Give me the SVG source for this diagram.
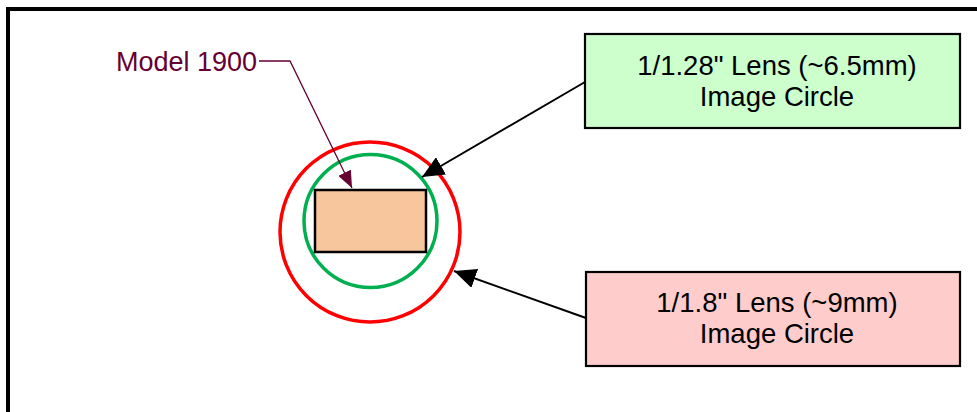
<svg xmlns="http://www.w3.org/2000/svg" width="977" height="412" viewBox="0 0 977 412">
<style>
text{font-family:"Liberation Sans",Arial,sans-serif;font-size:27.5px;fill:#000}
.model{font-size:27px;fill:#660033}
.box{stroke:#000;stroke-width:2.2}
.blk{stroke:#000;stroke-width:2;fill:none}
</style>
<defs>
<marker id="ah" markerWidth="24" markerHeight="20" refX="22" refY="10" markerUnits="userSpaceOnUse" orient="auto">
<path d="M0,0 L22,10 L0,20 z" fill="#000"/>
</marker>
<marker id="ahm" markerWidth="18" markerHeight="14" refX="17" refY="7" markerUnits="userSpaceOnUse" orient="auto">
<path d="M0,0 L17,7 L0,14 z" fill="#660033"/>
</marker>
</defs>
<rect x="8" y="9" width="975" height="410" fill="#fff" stroke="#000" stroke-width="4"/>
<g id="red-circle"><circle cx="370" cy="232" r="90" fill="none" stroke="#FF0000" stroke-width="3.5"/></g>
<g id="green-circle"><circle cx="370.5" cy="221" r="66.5" fill="none" stroke="#00B050" stroke-width="3.5"/></g>
<g id="sensor"><rect x="315" y="190" width="111" height="62" fill="#F8C69C" stroke="#000" stroke-width="2.5"/></g>
<g id="model-label"><text class="model" x="116" y="71">Model 1900</text></g>
<g id="green-box">
<rect class="box" x="585" y="34" width="375" height="94" fill="#CCFFCC"/>
<text x="777" y="75" text-anchor="middle">1/1.28" Lens (~6.5mm)</text>
<text x="777" y="106" text-anchor="middle">Image Circle</text>
</g>
<g id="pink-box">
<rect class="box" x="586" y="272" width="374" height="94" fill="#FFCCCC"/>
<text x="777" y="312" text-anchor="middle">1/1.8" Lens (~9mm)</text>
<text x="777" y="343" text-anchor="middle">Image Circle</text>
</g>
<g id="connectors">
<polyline points="259,61 290,61 352,188" fill="none" stroke="#660033" stroke-width="1.3" marker-end="url(#ahm)"/>
<line class="blk" x1="585" y1="82" x2="422" y2="177" marker-end="url(#ah)"/>
<line class="blk" x1="586" y1="318" x2="454" y2="271" marker-end="url(#ah)"/>
</g>
</svg>
